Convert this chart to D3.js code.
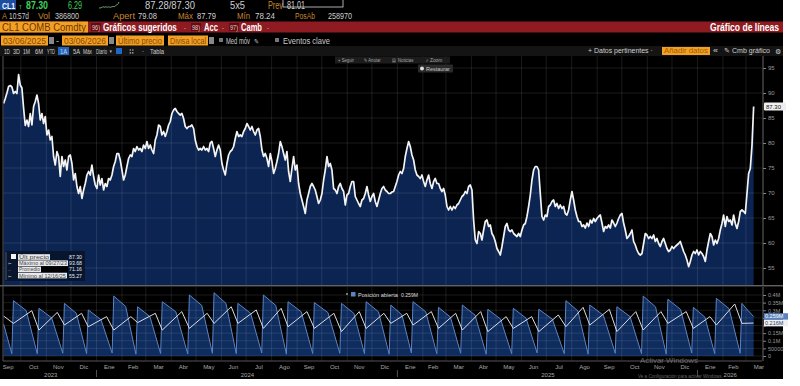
<!DOCTYPE html>
<html><head><meta charset="utf-8">
<script src="https://cdn.jsdelivr.net/npm/d3@7/dist/d3.min.js"></script>
<style>
html,body{margin:0;padding:0;background:#fff;overflow:hidden;}
svg{display:block;}
text{font-family:"Liberation Sans",Arial,sans-serif;}
</style></head><body>
<svg id="chart" width="800" height="386"></svg>
<script>
// ---------------- DATA ----------------
const priceStart = "2023-09-10";
const priceStepDays = 2.0274;
const prices = [
87.9,88.9,90.0,91.3,91.5,91.2,89.9,90.3,89.9,93.68,91.6,91.0,87.0,83.5,84.6,83.3,85.9,83.6,87.3,88.3,
89.6,87.9,84.6,85.9,83.9,85.3,81.6,82.6,80.6,81.3,77.3,75.6,78.3,77.3,73.3,77.3,75.3,76.6,74.6,77.3,
77.6,75.9,72.6,73.9,71.3,69.9,71.3,68.9,70.6,71.9,73.6,74.3,73.6,75.6,73.3,71.6,70.9,73.6,71.6,72.9,
70.6,71.9,71.3,72.9,72.6,73.6,75.3,76.3,77.9,77.9,76.6,74.6,72.6,73.6,75.3,76.9,77.6,77.3,78.9,78.3,
79.3,78.6,78.9,78.3,79.6,78.9,80.3,78.9,79.6,78.6,77.9,80.6,81.6,83.6,83.3,81.6,82.3,81.3,82.3,83.6,
84.3,85.9,86.6,86.9,86.3,85.9,85.6,85.9,84.9,83.3,82.9,83.3,83.3,83.6,82.9,80.6,79.3,78.6,
78.9,78.6,79.3,78.6,78.9,78.3,80.0,80.3,78.9,77.3,78.6,79.6,78.6,75.9,74.6,73.6,75.9,77.6,78.3,78.6,
79.3,80.9,82.3,81.3,81.6,81.3,82.3,82.9,83.9,83.3,82.6,83.3,82.3,81.6,82.6,82.9,81.3,78.6,77.3,77.9,
76.9,75.3,77.9,76.3,73.9,74.9,76.3,77.9,80.3,79.3,77.9,76.6,78.3,74.3,72.3,74.9,77.3,74.6,75.6,71.9,
69.9,68.6,67.3,65.9,68.6,69.9,71.3,71.9,71.3,70.6,69.3,67.9,68.6,69.9,72.6,74.6,77.3,75.3,75.9,74.6,
70.9,70.6,69.9,71.3,71.9,70.9,70.3,67.6,69.6,69.9,71.3,72.3,72.3,69.3,68.6,67.9,67.3,68.6,68.9,69.9,
71.3,69.6,68.3,69.3,69.9,68.3,67.3,68.6,69.9,70.9,71.3,70.6,70.3,69.9,
69.9,70.2,70.3,71.3,72.3,73.6,74.3,73.9,74.9,77.3,78.9,80.3,79.3,77.6,76.6,74.6,73.6,73.3,72.9,73.6,
72.3,71.3,72.6,73.6,71.9,70.9,72.3,72.9,71.9,71.9,70.9,70.3,70.9,69.6,67.3,66.6,67.3,66.6,67.3,66.9,
67.6,67.9,68.6,69.3,69.6,70.3,69.9,71.3,71.6,70.6,64.6,60.6,59.9,62.3,61.9,60.6,62.6,64.3,64.6,63.3,
63.6,61.9,61.3,60.3,58.9,58.3,57.6,59.3,61.3,63.3,63.9,62.6,62.3,62.6,61.9,61.6,61.3,61.9,61.3,62.6,
63.6,63.9,65.3,67.3,69.6,72.6,74.6,75.3,75.3,74.6,69.9,65.3,64.6,65.6,65.3,67.3,67.6,68.3,68.6,67.3,
67.9,66.9,67.6,66.9,67.3,65.9,65.6,66.6,68.6,70.3,68.6,66.6,65.3,64.3,
64.3,63.3,63.6,63.0,64.0,63.3,64.6,64.0,64.9,64.3,64.9,65.3,65.6,64.0,62.3,63.3,63.0,63.6,63.0,64.6,
64.0,63.3,64.0,64.9,65.6,65.9,64.0,62.6,60.9,61.3,61.9,62.6,60.3,59.6,58.6,57.9,57.6,57.9,59.9,61.9,
61.6,60.9,61.3,60.9,61.6,60.3,60.9,59.9,59.3,60.3,60.9,59.9,58.9,58.3,58.6,59.3,58.9,59.3,59.6,59.9,
60.3,59.3,58.3,57.6,56.6,55.27,56.3,57.6,58.3,57.9,58.6,57.6,58.3,57.9,57.3,56.3,58.6,60.3,61.9,61.3,
59.6,60.6,59.9,60.9,62.6,63.9,65.6,63.3,65.3,64.3,64.6,63.6,65.6,63.9,62.9,64.3,66.3,66.6,66.3,65.9,
69.9,73.9,74.9,79.5,87.3
];

// Open interest (front contract, blue area) – one value per roll cycle
const oiRollDates = ["2023-09-22","2023-10-23","2023-11-23","2023-12-22","2024-01-22","2024-02-20","2024-03-21","2024-04-23","2024-05-23","2024-06-21","2024-07-22","2024-08-21","2024-09-22","2024-10-25","2024-11-24","2024-12-24","2025-01-20","2025-02-20","2025-03-21","2025-04-21","2025-05-22","2025-06-22","2025-07-25","2025-08-23","2025-09-25","2025-10-27","2025-11-26","2025-12-27","2026-01-24","2026-02-24"];
const oiPeaks = [363000,313000,345000,302000,393000,323000,356000,400000,415000,345000,400000,356000,350000,345000,356000,334000,356000,319000,334000,306000,313000,306000,363000,334000,323000,393000,372000,319000,378000,345000];
const oiMids  = [298000,250000,280000,238000,325000,258000,290000,332000,345000,280000,332000,290000,285000,280000,290000,270000,290000,255000,268000,242000,248000,242000,296000,268000,258000,322000,305000,255000,310000,300000];
const oiLows  = [14000,18000,15000,20000,12000,16000,13000,18000,15000,20000,12000,16000,18000,15000,12000,20000,15000,18000,12000,15000,20000,15000,12000,18000,15000,12000,20000,15000,18000];
const oiFirst = [210000,15000];
const oiLast = 259000;
// second open-interest line (white)
const oiLineTroughs = [214000,170000,203000,192000,170000,219000,170000,181000,214000,214000,181000,192000,181000,160000,181000,214000,203000,181000,170000,160000,181000,160000,192000,203000,160000,170000,214000,181000,203000,214000];
const oiLinePeaks = [297000,286000,280000,258000,258000,280000,291000,280000,323000,302000,313000,291000,280000,291000,280000,280000,291000,280000,291000,258000,258000,269000,319000,306000,291000,291000,291000,258000,341000];
const oiLineFirst = 262000;
const oiLineLast = 216000;

const monthNames = ["Ene","Feb","Mar","Abr","May","Jun","Jul","Ago","Sep","Oct","Nov","Dic"];
const priceTicks = [55,60,65,70,75,80,85,90,95];
const oiTicks = [0,50000,100000,150000,200000,250000,300000,350000,400000];
const oiTickLabels = ["0","50000","0.1M","0.15M","0.2M","0.25M","0.3M","0.35M","0.4M"];
const legendLabels = ["Últ precio","Máximo al 09/27/23","Promedio","Mínimo al 12/16/25"];
const legendValues = ["87.30","93.68","71.16","55.27"];

// ---------------- HELPERS ----------------
const svg = d3.select("#chart");
const DAY = 864e5;
// text; if o.w is given the text is horizontally scaled (transform) to that width
function T(x, y, s, o = {}) {
  const t = svg.append("text").text(s)
    .attr("font-size", o.size || 9).attr("fill", o.fill || "#cfcfcf")
    .attr("font-weight", o.bold ? "bold" : "normal")
    .attr("text-anchor", o.anchor || "start");
  let sx = 1;
  if (o.w) {
    const nat = t.node().getComputedTextLength();
    if (nat > 0) sx = o.w / nat;
  }
  t.attr("transform", `translate(${x},${y}) scale(${sx},1)`);
  if (o.op != null) t.attr("opacity", o.op);
  return t;
}
function R(x, y, w, h, fill, o = {}) {
  const r = svg.append("rect").attr("x", x).attr("y", y).attr("width", w).attr("height", h).attr("fill", fill);
  if (o.stroke) r.attr("stroke", o.stroke).attr("stroke-width", o.sw || 1);
  if (o.rx) r.attr("rx", o.rx);
  return r;
}

// ---------------- BACKGROUND ----------------
R(0, 0, 783, 379, "#000");

// ---------------- SCALES ----------------
const x = d3.scaleTime().domain([new Date(2023, 8, 10, 12), new Date(2026, 2, 20, 12)]).range([4, 762]);
const yP = d3.scaleLinear().domain([55, 95]).range([268, 68]);
const yO = d3.scaleLinear().domain([0, 400000]).range([356, 295]);
const MT = 56, MB = 285, LT = 287, LB = 361;

const parse = d3.timeParse("%Y-%m-%d");
const p0 = parse(priceStart);
const priceData = prices.map((v, i) => ({ d: new Date(+p0 + i * priceStepDays * DAY), v }));
const endDate = priceData[priceData.length - 1].d;

// ---------------- HEADER ----------------
const ORANGE_TXT = "#c8862e";
// row 1
R(0, 0, 16, 10, "#1d4fa0");
T(2, 9, "CL1", { size: 9, fill: "#fff", bold: true, w: 13 });
T(18, 8.5, "↑", { size: 7, fill: "#3fd35a", w: 5 });
T(26, 9, "87.30", { size: 10, fill: "#3fd35a", bold: true, w: 22 });
T(68, 9, "6.29", { size: 10, fill: "#3fd35a", w: 14 });
{
  const sp = priceData.slice(-24);
  const sx = d3.scaleTime().domain([sp[0].d, sp[sp.length - 1].d]).range([99, 119]);
  const sy = d3.scaleLinear().domain(d3.extent(sp, d => d.v)).range([8, 2]);
  svg.append("path").datum(sp).attr("d", d3.line().x(d => sx(d.d)).y(d => sy(d.v)))
    .attr("fill", "none").attr("stroke", "#8fd08f").attr("stroke-width", 0.8);
}
T(145, 9, "87.28/87.30", { size: 10, w: 50 });
T(230, 9, "5x5", { size: 10, w: 15 });
T(268, 9, "Prev", { size: 10, fill: ORANGE_TXT, w: 15 });
T(287, 9, "81.01", { size: 10, w: 18 });
R(283, -1, 60, 8, "none", { stroke: "#d8d8d8", sw: 0.8 });
// row 2
T(2, 19, "A", { size: 9, fill: ORANGE_TXT, w: 5 });
T(9, 19, "10:57d", { size: 9, w: 20 });
T(38, 19, "Vol", { size: 9, fill: ORANGE_TXT, w: 12 });
T(55, 19, "386800", { size: 9, w: 24 });
T(113, 19, "Apert", { size: 9, fill: ORANGE_TXT, w: 22 });
T(138, 19, "79.08", { size: 9, w: 19 });
T(178, 19, "Máx", { size: 9, fill: ORANGE_TXT, w: 15 });
T(197, 19, "87.79", { size: 9, w: 19 });
T(237, 19, "Mín", { size: 9, fill: ORANGE_TXT, w: 13 });
T(255, 19, "78.24", { size: 9, w: 20 });
T(295, 19, "PosAb", { size: 9, fill: ORANGE_TXT, w: 20 });
T(328, 19, "258970", { size: 9, w: 24 });
// row 3 red bar
R(0, 21.5, 783, 11, "#8e1b22");
R(0, 21.5, 88, 11, "#f3a125");
T(2, 30.5, "CL1 COMB Comdty", { size: 10, fill: "#6b3500", w: 84 });
[[91, "96)", 103, "Gráficos sugeridos", 74, 184], [191, "98)", 204, "Acc", 14, 222], [229, "97)", 241, "Camb", 21, 267]].forEach(b => {
  R(b[0], 23, 10, 8, "#5e0f14");
  T(b[0] + 1, 29.5, b[1], { size: 7, fill: "#f0c8c8", w: 8 });
  T(b[2], 30.5, b[3], { size: 10, fill: "#fff", bold: true, w: b[4] });
  T(b[5], 30.5, "·", { size: 8, fill: "#fff", w: 2 });
});
T(779, 30.5, "Gráfico de líneas", { size: 10, fill: "#fff", anchor: "end", w: 69, bold: true });
// row 4
R(1, 35.5, 47, 10, "#f3a125");
T(3, 43.5, "03/06/2025", { size: 9, fill: "#8a4800", w: 43 });
R(49, 37, 5, 7, "#888");
T(56, 43.5, "-", { size: 9, fill: "#ccc", w: 3 });
R(62, 35.5, 46, 10, "#f3a125");
T(64, 43.5, "03/06/2026", { size: 9, fill: "#8a4800", w: 42 });
R(109, 37, 5, 7, "#888");
R(116, 35.5, 48, 10, "#f3a125");
T(118, 43.5, "Último precio", { size: 9, fill: "#8a4800", w: 44 });
R(168, 35.5, 40, 10, "#f3a125");
T(170, 43.5, "Divisa local", { size: 9, fill: "#8a4800", w: 36 });
R(209, 37, 5, 7, "#888");
R(219, 38, 4, 4, "#777");
T(226, 43.5, "Med móv", { size: 9, fill: "#c9c9c9", w: 24 });
T(253.5, 43.5, "✎", { size: 7, fill: "#c9c9c9", w: 5 });
R(275, 38, 4, 4, "#777");
T(283, 43.5, "Eventos clave", { size: 9, fill: "#c9c9c9", w: 47 });
// row 5 toolbar
R(0, 46, 783, 10, "#141414");
const rngBtns = [["1D", 4, 6], ["3D", 13, 7], ["1M", 23, 7], ["6M", 35, 8], ["YTD", 47, 8], ["1A", 60, 7], ["5A", 73, 7], ["Máx", 83, 9], ["Diario", 96, 11]];
R(58, 47, 11, 8, "#2266c4");
rngBtns.forEach(b => T(b[1], 53.5, b[0], { size: 7, fill: "#d0d0d0", w: b[2] }));
T(109, 53, "▼", { size: 4.5, fill: "#d0d0d0", w: 3.5 });
R(116, 48, 6, 6, "#2266c4");
T(129, 53.5, "⁞⁞", { size: 6.5, fill: "#d0d0d0", w: 5 });
T(142, 53.5, "·", { size: 6.5, fill: "#d0d0d0", w: 2 });
T(150, 53.5, "Tabla", { size: 7, fill: "#d0d0d0", w: 14 });
T(588, 53, "+ Datos pertinentes ·", { size: 7, fill: "#d0d0d0", w: 65 });
R(662, 47, 48, 8, "#f3a125");
T(664, 53, "Añadir datos", { size: 7, fill: "#a35a00", w: 44 });
T(713, 53, "«", { size: 7, fill: "#d0d0d0", w: 5 });
T(724, 53, "✎ Cmb gráfico", { size: 7, fill: "#d0d0d0", w: 46 });
T(775, 53.5, "⚙", { size: 6.5, fill: "#d0d0d0", w: 6 });

// ---------------- CLIPS ----------------
const defs = svg.append("defs");
defs.append("clipPath").attr("id", "clipMain").append("rect").attr("x", 3).attr("y", MT).attr("width", 759).attr("height", MB - MT);
defs.append("clipPath").attr("id", "clipLow").append("rect").attr("x", 3).attr("y", LT).attr("width", 759).attr("height", LB - LT);

// ---------------- MAIN PANEL ----------------
const gM = svg.append("g").attr("clip-path", "url(#clipMain)");
gM.append("path").datum(priceData)
  .attr("d", d3.area().x(d => x(d.d)).y0(MB).y1(d => yP(d.v)))
  .attr("fill", "#0c2452");
const months = d3.timeMonth.range(d3.timeMonth.ceil(x.domain()[0]), x.domain()[1]);
function grid(g, top, bot, yTicks, ys) {
  g.selectAll(null).data(months).enter().append("line")
    .attr("x1", d => x(d)).attr("x2", d => x(d)).attr("y1", top).attr("y2", bot)
    .attr("stroke", "rgba(255,255,255,0.13)").attr("stroke-width", 0.8);
  g.selectAll(null).data(yTicks).enter().append("line")
    .attr("x1", 3).attr("x2", 762).attr("y1", d => ys(d)).attr("y2", d => ys(d))
    .attr("stroke", "rgba(255,255,255,0.13)").attr("stroke-width", 0.8);
}
grid(gM, MT, MB, priceTicks, yP);
gM.append("path").datum(priceData)
  .attr("d", d3.line().x(d => x(d.d)).y(d => yP(d.v)))
  .attr("fill", "none").attr("stroke", "#f4f4f4").attr("stroke-width", 1.7).attr("stroke-linejoin", "round");

// right axis main
const axM = svg.append("g").attr("transform", "translate(763,0)")
  .call(d3.axisRight(yP).tickValues(priceTicks).tickSize(3).tickPadding(2).tickFormat(d3.format("d")));
axM.select(".domain").remove();
axM.selectAll("line").attr("stroke", "#888");
axM.selectAll("text").attr("fill", "#9a9a9a").attr("font-size", 6);
svg.append("line").attr("x1", 763).attr("x2", 763).attr("y1", MT).attr("y2", MB).attr("stroke", "#666");
// last price label
R(764, yP(87.30) - 4, 22, 8, "#efefef", { rx: 1 });
T(766, yP(87.30) + 2.2, "87.30", { size: 6, fill: "#111" });

// overlay toolbar
R(335, 56.5, 115, 7, "#1c1c1c");
[["+ Seguir", 338, 16], ["✎ Anotar", 364, 17], ["▤ Noticias", 392, 22], ["⌕ Zoom", 426, 16]].forEach(b => T(b[1], 62, b[0], { size: 5.5, fill: "#a8a8a8", w: b[2] }));
R(418, 64.5, 35, 8, "#2a2a2a", { rx: 1 });
svg.append("circle").attr("cx", 422).attr("cy", 68.5).attr("r", 2).attr("fill", "#ddd");
T(426, 70.5, "Restaurar", { size: 5.5, fill: "#c8c8c8", w: 24 });

// legend main
R(5, 251, 80, 30, "#07152f");
svg.append("line").attr("x1", 6).attr("x2", 6).attr("y1", 252).attr("y2", 280).attr("stroke", "#555");
R(11, 254, 5, 5, "#f4f4f4");
legendLabels.forEach((l, i) => {
  const cy = 257 + i * 6.2;
  if (i > 0) T(8, cy + 2, i === 2 ? "—" : "⊢", { size: 4, fill: "#888", w: 3 });
  const bw = [32, 50, 23, 49][i];
  R(18, cy - 2.8, bw, 5.6, "#e9e9e9");
  if (i === 2) R(41, cy - 2.8, 27, 5.6, "#000");
  T(19, cy + 1.9, l, { size: 5, fill: "#444", w: bw - 2 });
  T(69, cy + 1.9, legendValues[i], { size: 5, fill: "#e8e8e8", w: 13 });
});

// separator
svg.append("line").attr("x1", 0).attr("x2", 783).attr("y1", 285.8).attr("y2", 285.8).attr("stroke", "#8a8a8a").attr("stroke-width", 1);

// ---------------- LOWER PANEL ----------------
const rolls = oiRollDates.map(parse);
const blue = [{ d: priceData[0].d, v: oiFirst[0] }, { d: new Date(+rolls[0] - 2 * DAY), v: oiFirst[1] }];
rolls.forEach((a, i) => {
  const last = i === rolls.length - 1;
  const b = last ? endDate : rolls[i + 1];
  const c = b - a;
  blue.push({ d: a, v: oiPeaks[i] });
  blue.push({ d: new Date(+a + 0.5 * c), v: oiMids[i] });
  blue.push(last ? { d: b, v: oiLast } : { d: new Date(+b - 2 * DAY), v: oiLows[i] });
});
const white = [{ d: priceData[0].d, v: oiLineFirst }];
rolls.forEach((a, i) => {
  white.push({ d: a, v: oiLineTroughs[i] });
  if (i < rolls.length - 1) white.push({ d: new Date(+a + 0.72 * (rolls[i + 1] - a)), v: oiLinePeaks[i] });
});
white.push({ d: endDate, v: oiLineLast });

const gL = svg.append("g").attr("clip-path", "url(#clipLow)");
gL.append("path").datum(blue)
  .attr("d", d3.area().x(d => x(d.d)).y0(yO(0)).y1(d => yO(d.v)))
  .attr("fill", "#0f2c5e");
grid(gL, LT, LB, oiTicks, yO);
gL.append("path").datum(blue)
  .attr("d", d3.line().x(d => x(d.d)).y(d => yO(d.v)))
  .attr("fill", "none").attr("stroke", "#5b84c4").attr("stroke-width", 1);
gL.append("path").datum(white)
  .attr("d", d3.line().x(d => x(d.d)).y(d => yO(d.v)))
  .attr("fill", "none").attr("stroke", "#d9dde6").attr("stroke-width", 1);

// right axis lower: tick labels hidden where the last-value boxes sit on top of them (as in the reference)
const boxVals = [oiLast, oiLineLast];
const axL = svg.append("g").attr("transform", "translate(763,0)")
  .call(d3.axisRight(yO).tickValues(oiTicks).tickSize(3).tickPadding(2)
    .tickFormat((d, i) => boxVals.some(b => Math.abs(yO(b) - yO(d)) < 4) ? "" : oiTickLabels[i]));
axL.select(".domain").remove();
axL.selectAll("line").attr("stroke", "#888");
axL.selectAll("text").attr("fill", "#9a9a9a").attr("font-size", 5.5);
svg.append("line").attr("x1", 763).attr("x2", 763).attr("y1", LT).attr("y2", LB).attr("stroke", "#666");
R(764, yO(oiLast) - 3.3, 24, 6.6, "#5a83c0");
T(765, yO(oiLast) + 1.8, "0.259M", { size: 5.5, fill: "#fff" });
R(764, yO(oiLineLast) - 3.3, 24, 6.6, "#f0f0f0");
T(765, yO(oiLineLast) + 1.8, "0.216M", { size: 5.5, fill: "#1a3a70" });

// lower legend
R(346, 293, 2, 2, "#777");
R(351, 292, 4.5, 4.5, "#5a83c0");
T(358, 296.5, "Posición abierta", { size: 6, fill: "#dcdcdc", w: 40 });
T(401, 296.5, "0.259M", { size: 6, fill: "#dcdcdc", w: 17 });

svg.append("line").attr("x1", 3).attr("x2", 762).attr("y1", LB).attr("y2", LB).attr("stroke", "#555");
svg.append("line").attr("x1", 3).attr("x2", 3).attr("y1", MT).attr("y2", LB).attr("stroke", "#555");

// ---------------- X AXIS ----------------
const monthMids = months.map(m => d3.timeDay.offset(m, -16)).concat([d3.timeDay.offset(months[months.length - 1], 15)]);
const axX = svg.append("g").attr("transform", `translate(0,${LB + 2})`)
  .call(d3.axisBottom(x).tickValues(monthMids).tickSize(0).tickPadding(2).tickFormat(d => monthNames[d.getMonth()]));
axX.select(".domain").remove();
axX.selectAll("text").attr("fill", "#a8a8a8").attr("font-size", 6);
const years = [2023, 2024, 2025, 2026];
const yearMids = years.map(yv => {
  const a = Math.max(+x.domain()[0], +new Date(yv, 0, 1)), b = Math.min(+x.domain()[1], +new Date(yv + 1, 0, 1));
  return new Date((a + b) / 2);
});
const axY = svg.append("g").attr("transform", `translate(0,${LB + 10})`)
  .call(d3.axisBottom(x).tickValues(yearMids).tickSize(0).tickPadding(2).tickFormat(d => String(years[yearMids.indexOf(d)])));
axY.select(".domain").remove();
axY.selectAll("text").attr("fill", "#a8a8a8").attr("font-size", 6);
[2024, 2025, 2026].forEach(yv => {
  const xx = x(new Date(yv, 0, 1));
  svg.append("line").attr("x1", xx).attr("x2", xx).attr("y1", 370).attr("y2", 377).attr("stroke", "#666").attr("stroke-width", 0.8);
});

// watermark (over the axis band, as in the screenshot)
T(640, 362.5, "Activar Windows", { size: 6.5, fill: "#b0b0b0", op: 0.55, w: 58 });
T(638, 378, "Ve a Configuración para activar Windows.", { size: 5, fill: "#b0b0b0", op: 0.55, w: 85 });
</script>
</body></html>
